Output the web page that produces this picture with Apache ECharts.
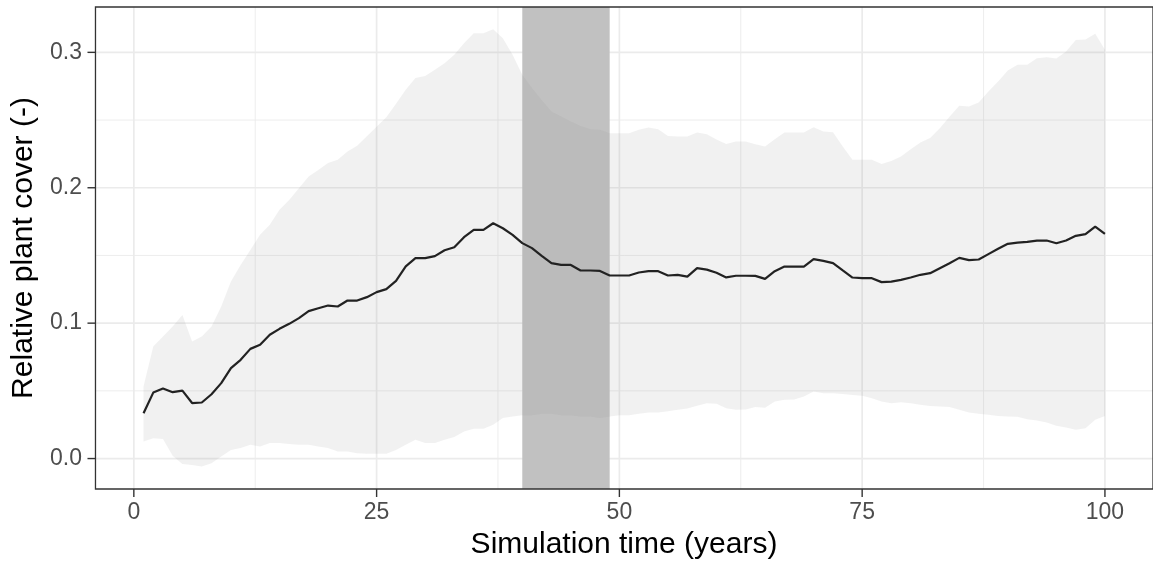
<!DOCTYPE html>
<html>
<head>
<meta charset="utf-8">
<title>Relative plant cover over simulation time</title>
<script src="https://cdn.jsdelivr.net/npm/echarts@6/dist/echarts.min.js"></script>
<style>
  html, body { margin: 0; padding: 0; background: #ffffff; }
  #chart { width: 1153px; height: 567px; }
</style>
</head>
<body>
<div id="chart"></div>
<script>
// Simulation years
const years = Array.from({ length: 100 }, (_, i) => i + 1);

// Mean relative plant cover per year
const cover = [
  0.0335, 0.0487, 0.0517, 0.0490, 0.0502, 0.0410, 0.0414, 0.0475, 0.0557, 0.0668,
  0.0729, 0.0810, 0.0840, 0.0914, 0.0958, 0.0995, 0.1037, 0.1089, 0.1110, 0.1130,
  0.1123, 0.1167, 0.1167, 0.1192, 0.1229, 0.1251, 0.1312, 0.1420, 0.1480, 0.1480,
  0.1495, 0.1538, 0.1561, 0.1635, 0.1689, 0.1689, 0.1738, 0.1701, 0.1652, 0.1591,
  0.1554, 0.1497, 0.1443, 0.1430, 0.1430, 0.1389, 0.1389, 0.1386, 0.1352, 0.1352,
  0.1352, 0.1374, 0.1384, 0.1384, 0.1352, 0.1357, 0.1344, 0.1406, 0.1395, 0.1372,
  0.1338, 0.1350, 0.1350, 0.1349, 0.1327, 0.1384, 0.1418, 0.1418, 0.1418, 0.1473,
  0.1460, 0.1443, 0.1389, 0.1337, 0.1332, 0.1332, 0.1303, 0.1307, 0.1320, 0.1337,
  0.1357, 0.1369, 0.1406, 0.1443, 0.1482, 0.1465, 0.1470, 0.1510, 0.1549, 0.1586,
  0.1595, 0.1600, 0.1610, 0.1610, 0.1590, 0.1610, 0.1645, 0.1657, 0.1713, 0.1660
];

// Upper bound of the cover envelope
const upper = [
  0.0532, 0.0827, 0.0901, 0.0975, 0.1060, 0.0864, 0.0901, 0.0975, 0.1123, 0.1307,
  0.1430, 0.1541, 0.1652, 0.1726, 0.1837, 0.1910, 0.1997, 0.2083, 0.2132, 0.2182,
  0.2206, 0.2267, 0.2310, 0.2380, 0.2450, 0.2520, 0.2620, 0.2723, 0.2810, 0.2826,
  0.2871, 0.2920, 0.2982, 0.3068, 0.3142, 0.3142, 0.3171, 0.3105, 0.2982, 0.2834,
  0.2736, 0.2649, 0.2563, 0.2526, 0.2489, 0.2457, 0.2433, 0.2428, 0.2403, 0.2403,
  0.2403, 0.2428, 0.2445, 0.2433, 0.2383, 0.2378, 0.2378, 0.2408, 0.2395, 0.2357,
  0.2323, 0.2341, 0.2342, 0.2322, 0.2304, 0.2359, 0.2408, 0.2408, 0.2408, 0.2447,
  0.2415, 0.2410, 0.2304, 0.2206, 0.2206, 0.2206, 0.2176, 0.2197, 0.2230, 0.2285,
  0.2335, 0.2368, 0.2440, 0.2525, 0.2605, 0.2600, 0.2630, 0.2710, 0.2784, 0.2866,
  0.2908, 0.2908, 0.2957, 0.2964, 0.2955, 0.3006, 0.3092, 0.3095, 0.3137, 0.3019
];

// Lower bound of the cover envelope
const lower = [
  0.0126, 0.0150, 0.0145, 0.0020, -0.0040, -0.0047, -0.0059, -0.0034, 0.0015, 0.0064,
  0.0077, 0.0101, 0.0089, 0.0114, 0.0114, 0.0108, 0.0101, 0.0101, 0.0089, 0.0077,
  0.0052, 0.0052, 0.0040, 0.0035, 0.0035, 0.0035, 0.0064, 0.0101, 0.0138, 0.0114,
  0.0114, 0.0138, 0.0160, 0.0200, 0.0220, 0.0220, 0.0250, 0.0300, 0.0310, 0.0320,
  0.0320, 0.0330, 0.0330, 0.0320, 0.0320, 0.0310, 0.0310, 0.0300, 0.0310, 0.0320,
  0.0320, 0.0330, 0.0340, 0.0340, 0.0350, 0.0360, 0.0370, 0.0390, 0.0409, 0.0405,
  0.0372, 0.0360, 0.0362, 0.0380, 0.0375, 0.0421, 0.0434, 0.0436, 0.0458, 0.0495,
  0.0483, 0.0483, 0.0476, 0.0470, 0.0463, 0.0446, 0.0421, 0.0409, 0.0415, 0.0409,
  0.0397, 0.0389, 0.0384, 0.0380, 0.0360, 0.0340, 0.0330, 0.0323, 0.0315, 0.0310,
  0.0308, 0.0291, 0.0281, 0.0266, 0.0242, 0.0229, 0.0212, 0.0224, 0.0286, 0.0315
];

// Highlighted period (years)
const shadedPeriod = [40, 49];

// Tick positions and labels
const xTicks = [0, 25, 50, 75, 100];
const xMinorTicks = [12.5, 37.5, 62.5, 87.5];
const yTicks = [0, 0.1, 0.2, 0.3];
const yMinorTicks = [0.05, 0.15, 0.25];

const FONT = '"Liberation Sans", Arial, Helvetica, sans-serif';
const INK = '#333333';
const TICK_LEN = 8;
const TICK_W = 1.4;

// Panel extent in data units (the grid itself reaches a little further
// left and down so that the outward tick marks sit inside it)
const PANEL = { xMin: -3.95, xMax: 104.95, yMin: -0.0225, yMax: 0.3335 };
const AXIS_X_MIN = -4.72;
const AXIS_Y_MIN = -0.0284;

// Grid line items: [x, y, orientation (0 = vertical, 1 = horizontal), major flag]
const gridItems = []
  .concat(xMinorTicks.map(v => [v, 0, 0, 0]))
  .concat(yMinorTicks.map(v => [0, v, 1, 0]))
  .concat(xTicks.map(v => [v, 0, 0, 1]))
  .concat(yTicks.map(v => [0, v, 1, 1]));

function panelBox(api) {
  const tl = api.coord([PANEL.xMin, PANEL.yMax]);
  const br = api.coord([PANEL.xMax, PANEL.yMin]);
  return { x0: tl[0], y0: tl[1], x1: br[0], y1: br[1] };
}

const chart = echarts.init(document.getElementById('chart'), null, { renderer: 'canvas' });

const option = {
  animation: false,
  backgroundColor: '#ffffff',
  textStyle: { fontFamily: FONT },
  grid: {
    show: false,
    left: 88,
    top: 7,
    right: -2,
    bottom: 70
  },
  xAxis: {
    type: 'value',
    position: 'bottom',
    min: AXIS_X_MIN,
    max: PANEL.xMax,
    name: 'Simulation time (years)',
    nameLocation: 'middle',
    nameGap: 33,
    nameTextStyle: { fontSize: 30, color: '#000000', fontFamily: FONT, padding: [0, 0, 0, 7] },
    axisLine: { show: false, onZero: false },
    splitLine: { show: false },
    axisTick: { show: false },
    axisLabel: {
      show: true,
      customValues: xTicks,
      margin: 4,
      fontSize: 23,
      color: '#4D4D4D',
      fontFamily: FONT,
      formatter: v => String(v)
    }
  },
  yAxis: {
    type: 'value',
    position: 'left',
    min: AXIS_Y_MIN,
    max: PANEL.yMax,
    name: 'Relative plant cover (-)',
    nameLocation: 'middle',
    nameGap: 48,
    nameTextStyle: { fontSize: 30, color: '#000000', fontFamily: FONT, padding: [0, 0, 0, 8] },
    axisLine: { show: false, onZero: false },
    splitLine: { show: false },
    axisTick: { show: false },
    axisLabel: {
      show: true,
      customValues: yTicks,
      margin: 6,
      fontSize: 23,
      color: '#4D4D4D',
      fontFamily: FONT,
      formatter: v => v.toFixed(1)
    }
  },
  series: [
    {
      // panel grid lines
      type: 'custom',
      z: 0,
      silent: true,
      clip: false,
      data: gridItems,
      renderItem: function (params, api) {
        const b = panelBox(api);
        const vertical = api.value(2) === 0;
        const major = api.value(3) === 1;
        const p = api.coord([api.value(0), api.value(1)]);
        const shape = vertical
          ? { x1: p[0], y1: b.y0, x2: p[0], y2: b.y1 }
          : { x1: b.x0, y1: p[1], x2: b.x1, y2: p[1] };
        return {
          type: 'line',
          shape: shape,
          style: { stroke: '#EBEBEB', lineWidth: major ? 1.7 : 0.9 }
        };
      }
    },
    {
      // highlighted period band, spanning the full panel height
      type: 'custom',
      z: 1,
      silent: true,
      clip: true,
      data: [shadedPeriod],
      renderItem: function (params, api) {
        const b = panelBox(api);
        const x0 = api.coord([api.value(0), 0])[0];
        const x1 = api.coord([api.value(1), 0])[0];
        return {
          type: 'rect',
          shape: { x: x0, y: b.y0, width: x1 - x0, height: b.y1 - b.y0 },
          style: { fill: '#C1C1C1' }
        };
      }
    },
    {
      // envelope between lower and upper bounds
      type: 'custom',
      z: 2,
      silent: true,
      clip: true,
      data: years.map((t, i) => [t, lower[i], upper[i]]),
      encode: { x: 0, y: [1, 2] },
      renderItem: function (params, api) {
        if (params.dataIndexInside !== 0) return null;
        const pts = [];
        for (let i = 0; i < years.length; i++) pts.push(api.coord([years[i], upper[i]]));
        for (let i = years.length - 1; i >= 0; i--) pts.push(api.coord([years[i], lower[i]]));
        return {
          type: 'polygon',
          shape: { points: pts },
          style: { fill: 'rgba(150,150,150,0.13)' }
        };
      }
    },
    {
      // mean cover
      type: 'line',
      z: 3,
      silent: true,
      showSymbol: false,
      symbol: 'none',
      data: years.map((t, i) => [t, cover[i]]),
      lineStyle: { color: '#222222', width: 2.2 }
    },
    {
      // panel border together with its outward tick marks
      type: 'custom',
      z: 10,
      silent: true,
      clip: false,
      data: [[PANEL.xMin, PANEL.yMin]],
      renderItem: function (params, api) {
        const b = panelBox(api);
        const children = [{
          type: 'rect',
          shape: { x: b.x0, y: b.y0, width: b.x1 - b.x0, height: b.y1 - b.y0 },
          style: { fill: 'none', stroke: INK, lineWidth: 1.3 }
        }];
        xTicks.forEach(function (v) {
          const px = api.coord([v, PANEL.yMin])[0];
          children.push({
            type: 'rect',
            shape: { x: px - TICK_W / 2, y: b.y1, width: TICK_W, height: TICK_LEN },
            style: { fill: INK, stroke: 'none' }
          });
        });
        yTicks.forEach(function (v) {
          const py = api.coord([PANEL.xMin, v])[1];
          children.push({
            type: 'rect',
            shape: { x: b.x0 - TICK_LEN, y: py - TICK_W / 2, width: TICK_LEN, height: TICK_W },
            style: { fill: INK, stroke: 'none' }
          });
        });
        return { type: 'group', children: children };
      }
    }
  ]
};

chart.setOption(option);
</script>
</body>
</html>
